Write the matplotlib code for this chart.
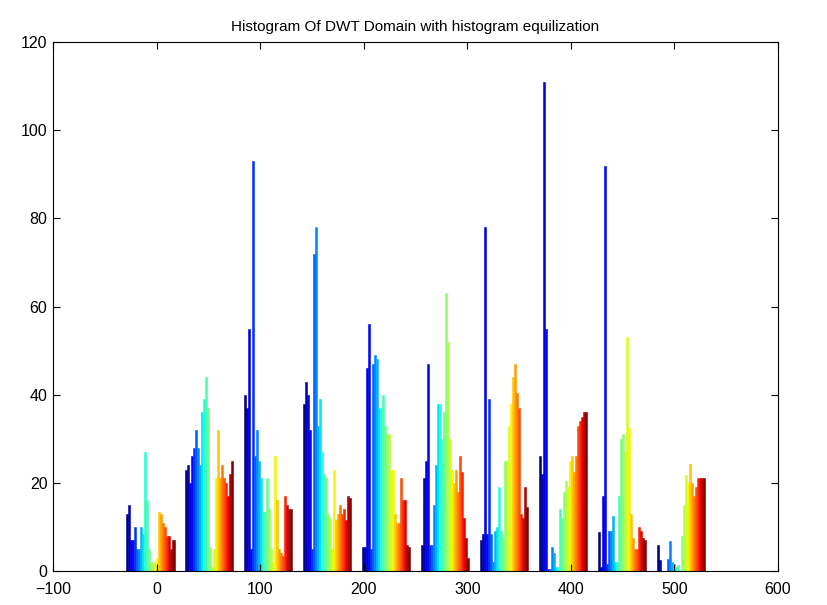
import matplotlib
matplotlib.use("Agg")
import matplotlib.pyplot as plt
import numpy as np

# Histogram bin centres (x positions of the 10 groups)
bin_centers = [-6.0, 50.9, 107.8, 164.7, 221.6, 278.5, 335.4, 392.3, 449.2, 506.1]

# Counts per bin, one value per column (series) of the data matrix
bin1 = [13, 15, 7, 7, 10, 5, 5, 10, 8.5, 27, 16, 5, 2, 1.5, 2, 3, 13.5, 13, 11, 10, 8, 8, 5, 7]
bin2 = [23, 24, 20, 26, 28, 32, 28, 24, 36, 39, 44, 37, 5.5, 1, 5, 21, 32, 21, 24, 21, 20, 17, 22, 25]
bin3 = [40, 37, 55, 5, 93, 26, 32, 25, 21, 13.5, 13.5, 21, 14, 5, 2, 26, 16, 5, 4, 3.5, 17, 15, 14, 14]
bin4 = [38, 43, 40, 32, 5, 72, 78, 33, 39, 27, 22, 21, 13, 12, 5, 23, 11.5, 13, 15, 13, 14, 11.5, 17, 16.5]
bin5 = [5.5, 5.5, 46, 56, 5, 47, 49, 48, 37, 37, 40, 33, 31, 31, 23, 23, 13, 11, 11, 21, 16, 16, 6, 5.5]
bin6 = [6, 21, 25, 47, 6, 6, 15, 24, 38, 38, 30, 36, 63, 52, 30, 23, 20, 23, 18, 26, 22.5, 12, 7.5, 3]
bin7 = [7, 8.5, 78, 8.5, 39, 8.5, 2, 9, 10, 19, 9, 7.5, 25, 25, 33, 38, 44, 47, 40.5, 37, 13, 12, 19, 14.5]
bin8 = [26, 22, 111, 55, 0.5, 0.5, 5.5, 4, 1, 1, 14, 12, 18, 20.5, 19, 25, 26, 22.5, 26, 33, 34, 35, 36, 36]
bin9 = [8.8, 1, 17, 92, 1.5, 9, 9, 12.5, 2, 2, 17, 30, 31, 27, 53, 32.5, 13, 7.5, 5, 5, 10, 9, 7.5, 7]
bin10 = [6, 2.5, 0, 0, 0, 2.8, 6.8, 2, 1.7, 1, 1.3, 0.2, 8, 15, 21.7, 20, 24.3, 20, 17, 19, 21, 21, 21, 21]

bins = [bin1, bin2, bin3, bin4, bin5, bin6, bin7, bin8, bin9, bin10]

x_ticks = [-100, 0, 100, 200, 300, 400, 500, 600]
y_ticks = [0, 20, 40, 60, 80, 100, 120]
title = "Histogram Of DWT Domain with histogram equilization"

plt.rcParams['font.family'] = ['Liberation Sans', 'DejaVu Sans']

fig = plt.figure(figsize=(8.28, 6.05), dpi=100)
ax = fig.add_axes([0.064, 0.0562, 0.8756, 0.874])

spacing = bin_centers[1] - bin_centers[0]
group_w = 0.82 * spacing
cmap = plt.get_cmap('jet')

n = len(bin1)
bw = group_w / n
for j in range(n):
    xs = [c - group_w / 2 + j * bw for c in bin_centers]
    hs = [b[j] for b in bins]
    col = cmap(j / (n - 1))
    ax.bar(xs, hs, width=bw, align='edge', color=col,
           edgecolor=col, linewidth=0.4)

ax.set_xlim(-100, 600)
ax.set_ylim(0, 120)
ax.set_xticks(x_ticks)
ax.set_yticks(y_ticks)
ax.tick_params(direction='in', top=True, right=True, labelsize=11.5, length=5, width=0.8)
ax.tick_params(axis='x', pad=8)
ax.tick_params(axis='y', pad=4)
for s in ax.spines.values():
    s.set_linewidth(0.8)
ax.set_title(title, fontsize=11, pad=8)

fig.savefig("out.png", dpi=100)
